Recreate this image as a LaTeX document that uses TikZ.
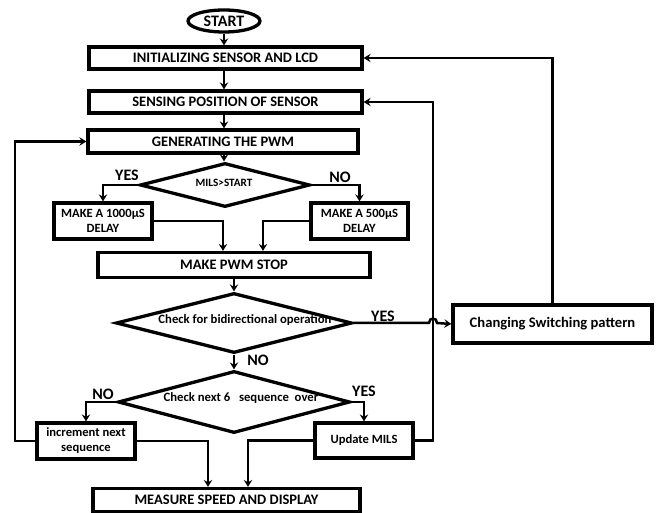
\documentclass[tikz,border=0pt]{standalone}
\usepackage{fontspec}
\setmainfont{Carlito}
\usetikzlibrary{shapes.geometric,arrows.meta,calc}
\begin{document}
\begin{tikzpicture}[x=1pt,y=-1pt,
  box/.style={draw,line width=3.3pt,rectangle,inner sep=0pt,align=center,font=\bfseries\fontsize{14.5}{14.5}\selectfont},
  sbox/.style={draw,line width=3.3pt,rectangle,inner sep=0pt,align=center,font=\bfseries\fontsize{12.6}{15}\selectfont},
  dia/.style={draw,line width=3.3pt,diamond,inner sep=0pt},
  dtext/.style={font=\bfseries\fontsize{12.7}{12.7}\selectfont,inner sep=0pt},
  lab/.style={font=\bfseries\fontsize{16}{16}\selectfont,inner sep=0pt},
  arr/.style={line width=2.5pt,-{Stealth[length=7pt,width=8.5pt,inset=2.5pt]}}]
\useasboundingbox (0,0) rectangle (657,513);
\node[draw,line width=3.3pt,ellipse,minimum width=72,minimum height=22,inner sep=0pt,font=\bfseries\fontsize{16}{16}\selectfont] (start) at (224,21) {START};
\node[box,minimum width=273,minimum height=22] (init) at (225.5,58) {INITIALIZING SENSOR AND LCD};
\node[box,minimum width=273,minimum height=22] (sense) at (225.5,102) {SENSING POSITION OF SENSOR};
\node[box,minimum width=270,minimum height=23] (gen) at (223,141.5) {GENERATING THE PWM};
\node[dia,minimum width=170,minimum height=44] (d1) at (225,185) {};
\node[dtext,font=\bfseries\fontsize{11.2}{11.2}\selectfont] (d1t) at (224,183) {MILS>START};
\node[sbox,minimum width=98,minimum height=36] (b1000) at (103,221) {MAKE A 1000µS\\DELAY};
\node[sbox,minimum width=97,minimum height=36] (b500) at (359.5,221) {MAKE A 500µS\\DELAY};
\node[box,minimum width=272,minimum height=25] (pwm) at (234,265) {MAKE PWM STOP};
\node[dia,minimum width=236,minimum height=60] (d2) at (234,323) {};
\node[dtext] (d2t) at (245,320) {Check for bidirectional operation};
\node[sbox,minimum width=199,minimum height=38,font=\bfseries\fontsize{14.6}{14.6}\selectfont] (chg) at (552.5,324) {Changing Switching pattern};
\node[dia,minimum width=232,minimum height=62] (d3) at (234,402) {};
\node[dtext] (d3t) at (241,398) {Check next 6\ \ \ sequence\ \ over};
\node[sbox,minimum width=98,minimum height=36] (inc) at (86,441) {increment next\\sequence};
\node[sbox,minimum width=98,minimum height=35] (upd) at (364,440.5) {Update MILS};
\node[box,minimum width=267,minimum height=23] (meas) at (226.5,500) {MEASURE SPEED AND DISPLAY};
% helper coordinates
\coordinate (lx) at (15,0);
\coordinate (rx) at (433,0);
\coordinate (px1) at (223,0);
\coordinate (px2) at (263,0);
\coordinate (mx1) at (208,0);
\coordinate (mx2) at (248,0);
\coordinate (hopa) at (429,323);
\coordinate (hopb) at (437,323);
% main flow
\draw[arr] (start.south) -- (start.south |- init.north);
\draw[arr] (init.south -| start) -- (sense.north -| start);
\draw[arr] (sense.south -| start) -- (gen.north -| start);
\draw[arr] (gen.south -| start) -- (d1.north -| start);
\draw[arr] (d1.west) -| (b1000.north);
\draw[arr] (d1.east) -| (b500.north);
\draw[arr] (b1000.east) -| (pwm.north -| px1);
\draw[arr] (b500.west) -| (pwm.north -| px2);
\draw[arr] (pwm.south) -- (d2.north);
\draw[arr] (d2.south) -- (d3.north);
\draw[arr] (d2.east) -- (hopa) .. controls (429,317) and (437,317) .. (hopb) -- (chg.west);
\draw[arr] (chg.north) |- (init.east);
\draw[arr] (d3.west) -| (inc.north);
\draw[arr] (d3.east) -| (upd.north);
\draw[arr] (inc.west) -- (inc.west -| lx) |- (gen.west);
\draw[arr] (upd.east) -- (upd.east -| rx) |- (sense.east);
\draw[arr] (inc.east) -| (meas.north -| mx1);
\draw[arr] (upd.west) -| (meas.north -| mx2);
% labels
\node[lab] (y1) at (127,175) {YES};
\node[lab] (n1) at (340,177) {NO};
\node[lab] (y2) at (383,316) {YES};
\node[lab] (n2) at (258,360) {NO};
\node[lab] (n3) at (103,394) {NO};
\node[lab] (y3) at (364,391) {YES};
\end{tikzpicture}
\end{document}
